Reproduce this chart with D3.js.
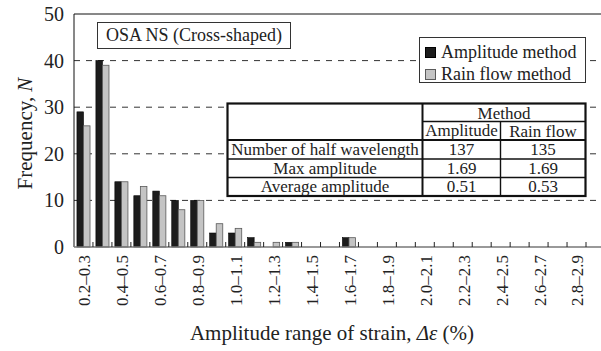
<!DOCTYPE html>
<html>
<head>
<meta charset="utf-8">
<script src="https://cdn.jsdelivr.net/npm/d3@7/dist/d3.min.js"></script>
<style>
  html, body { margin: 0; padding: 0; background: #fff; }
  svg { display: block; }
  text { font-family: "Liberation Serif", Tinos, Times, "DejaVu Serif", serif; }
</style>
</head>
<body>
<div id="chart"></div>
<script>
// Strain amplitude bins (0.1 wide)
const categories = [
  '0.2–0.3', '0.3–0.4', '0.4–0.5', '0.5–0.6', '0.6–0.7', '0.7–0.8', '0.8–0.9',
  '0.9–1.0', '1.0–1.1', '1.1–1.2', '1.2–1.3', '1.3–1.4', '1.4–1.5', '1.5–1.6',
  '1.6–1.7', '1.7–1.8', '1.8–1.9', '1.9–2.0', '2.0–2.1', '2.1–2.2', '2.2–2.3',
  '2.3–2.4', '2.4–2.5', '2.5–2.6', '2.6–2.7', '2.7–2.8', '2.8–2.9'
]
const amplitudeMethod = [29, 40, 14, 11, 12, 10, 10, 3, 3, 2, 0, 1, 0, 0, 2, 0, 0, 0, 0, 0, 0, 0, 0, 0, 0, 0, 0]
const rainFlowMethod  = [26, 39, 14, 13, 11, 8, 10, 5, 4, 1, 1, 1, 0, 0, 2, 0, 0, 0, 0, 0, 0, 0, 0, 0, 0, 0, 0]
const yTicks = [0, 10, 20, 30, 40, 50]

const seriesNames = ['Amplitude method', 'Rain flow method']

// Summary table
const tableRows = ['Number of half wavelength', 'Max amplitude', 'Average amplitude']
const tableAmplitude = ['137', '1.69', '0.51']
const tableRainFlow = ['135', '1.69', '0.53']

const width = 601, height = 351
const margin = { top: 14, right: 15, bottom: 104, left: 74 }
const plotRight = width - margin.right
const plotBottom = height - margin.bottom

const colors = { amp: '#1c1c1c', ampStroke: '#000', rain: '#c4c4c4', rainStroke: '#5a5a5a' }

const svg = d3.select('#chart').append('svg')
  .attr('width', width)
  .attr('height', height)

const x = d3.scaleBand()
  .domain(categories)
  .range([margin.left, plotRight])
  .padding(0)

const x1 = d3.scaleBand()
  .domain(['amp', 'rain'])
  .range([0, x.bandwidth()])
  .paddingInner(0)
  .paddingOuter(0.45)

const y = d3.scaleLinear()
  .domain([0, 50])
  .range([plotBottom, margin.top])

// dashed grid
svg.append('g')
  .selectAll('line')
  .data(yTicks.filter(d => d > 0 && d < 50))
  .join('line')
  .attr('x1', margin.left)
  .attr('x2', width)
  .attr('y1', d => y(d))
  .attr('y2', d => y(d))
  .attr('stroke', '#333')
  .attr('stroke-width', 1)
  .attr('stroke-dasharray', '6,6')

// bars
const groups = svg.append('g')
  .selectAll('g')
  .data(categories.map((c, i) => ({ c, amp: amplitudeMethod[i], rain: rainFlowMethod[i] })))
  .join('g')
  .attr('transform', d => `translate(${x(d.c)},0)`)

groups.filter(d => d.amp > 0).append('rect')
  .attr('x', x1('amp'))
  .attr('y', d => y(d.amp))
  .attr('width', x1.bandwidth())
  .attr('height', d => y(0) - y(d.amp))
  .attr('fill', colors.amp)
  .attr('stroke', colors.ampStroke)
  .attr('stroke-width', 0.6)

groups.filter(d => d.rain > 0).append('rect')
  .attr('x', x1('rain'))
  .attr('y', d => y(d.rain))
  .attr('width', x1.bandwidth())
  .attr('height', d => y(0) - y(d.rain))
  .attr('fill', colors.rain)
  .attr('stroke', colors.rainStroke)
  .attr('stroke-width', 0.8)

// frame: top border and left axis
svg.append('line')
  .attr('x1', margin.left).attr('x2', width)
  .attr('y1', y(50)).attr('y2', y(50))
  .attr('stroke', '#111').attr('stroke-width', 1)

svg.append('line')
  .attr('x1', margin.left).attr('x2', margin.left)
  .attr('y1', y(50)).attr('y2', y(0))
  .attr('stroke', '#111').attr('stroke-width', 1)

// y tick labels
svg.append('g')
  .selectAll('text')
  .data(yTicks)
  .join('text')
  .attr('x', 64)
  .attr('y', d => y(d))
  .attr('dy', '0.35em')
  .attr('text-anchor', 'end')
  .attr('font-size', 20)
  .attr('fill', '#222')
  .text(d => d)

// x axis line with inward ticks between categories
svg.append('line')
  .attr('x1', margin.left).attr('x2', width)
  .attr('y1', y(0)).attr('y2', y(0))
  .attr('stroke', '#777').attr('stroke-width', 1.5)

svg.append('g')
  .selectAll('line')
  .data(categories)
  .join('line')
  .attr('x1', d => x(d) + x.step())
  .attr('x2', d => x(d) + x.step())
  .attr('y1', y(0) - 5)
  .attr('y2', y(0))
  .attr('stroke', '#222')
  .attr('stroke-width', 1)

// x tick labels, every second bin
svg.append('g')
  .selectAll('text')
  .data(categories.filter((d, i) => i % 2 === 0))
  .join('text')
  .attr('transform', d => `translate(${x(d) + x.bandwidth() / 2 + 1},${y(0) + 8}) rotate(-90)`)
  .attr('text-anchor', 'end')
  .attr('dy', '0.35em')
  .attr('font-size', 17)
  .attr('fill', '#222')
  .text(d => d)

// axis titles
svg.append('text')
  .attr('transform', `translate(25,${(y(0) + y(50)) / 2 + 3}) rotate(-90)`)
  .attr('text-anchor', 'middle')
  .attr('dy', '0.35em')
  .attr('font-size', 21)
  .attr('fill', '#222')
  .call(t => {
    t.append('tspan').text('Frequency, ')
    t.append('tspan').attr('font-style', 'italic').text('N')
  })

svg.append('text')
  .attr('x', 332)
  .attr('y', 340)
  .attr('text-anchor', 'middle')
  .attr('font-size', 21)
  .attr('fill', '#222')
  .call(t => {
    t.append('tspan').text('Amplitude range of strain, ')
    t.append('tspan').attr('font-style', 'italic').text('Δε')
    t.append('tspan').text(' (%)')
  })

// title box
const title = svg.append('g')
title.append('rect')
  .attr('x', 97.5).attr('y', 22.5)
  .attr('width', 193).attr('height', 26)
  .attr('fill', '#fff').attr('stroke', '#333').attr('stroke-width', 1)
title.append('text')
  .attr('x', 194).attr('y', 41)
  .attr('text-anchor', 'middle')
  .attr('font-size', 18)
  .attr('fill', '#222')
  .text('OSA NS (Cross-shaped)')

// legend
const legend = svg.append('g')
legend.append('rect')
  .attr('x', 419.5).attr('y', 37.5)
  .attr('width', 166).attr('height', 45)
  .attr('fill', '#fff').attr('stroke', '#333').attr('stroke-width', 1)

const legendItems = legend.selectAll('g.item')
  .data(seriesNames)
  .join('g')
  .attr('class', 'item')
  .attr('transform', (d, i) => `translate(425,${47 + i * 22})`)

legendItems.append('rect')
  .attr('x', 0.5).attr('y', 0.5)
  .attr('width', 10).attr('height', 10)
  .attr('fill', (d, i) => i === 0 ? colors.amp : colors.rain)
  .attr('stroke', (d, i) => i === 0 ? colors.ampStroke : colors.rainStroke)

legendItems.append('text')
  .attr('x', 16).attr('y', 11)
  .attr('font-size', 18)
  .attr('fill', '#222')
  .text(d => d)

// summary table
const cols = [227.5, 422.5, 500.5, 585.5]
const rowsY = [103.5, 121.5, 140, 159, 177.5, 196]
const table = svg.append('g')
table.append('rect')
  .attr('x', cols[0]).attr('y', rowsY[0])
  .attr('width', cols[3] - cols[0]).attr('height', rowsY[5] - rowsY[0])
  .attr('fill', '#fff').attr('stroke', '#111').attr('stroke-width', 2.2)

const hLines = [
  { x1: cols[1], y: rowsY[1] },
  { x1: cols[0], y: rowsY[2] },
  { x1: cols[0], y: rowsY[3] },
  { x1: cols[0], y: rowsY[4] }
]
table.selectAll('line.h')
  .data(hLines)
  .join('line')
  .attr('class', 'h')
  .attr('x1', d => d.x1).attr('x2', cols[3])
  .attr('y1', d => d.y).attr('y2', d => d.y)
  .attr('stroke', '#111').attr('stroke-width', (d, i) => i === 1 ? 2 : 1.4)

table.append('line')
  .attr('x1', cols[1]).attr('x2', cols[1])
  .attr('y1', rowsY[0]).attr('y2', rowsY[5])
  .attr('stroke', '#111').attr('stroke-width', 2)
table.append('line')
  .attr('x1', cols[2]).attr('x2', cols[2])
  .attr('y1', rowsY[1]).attr('y2', rowsY[5])
  .attr('stroke', '#111').attr('stroke-width', 1.4)

const cellText = (cx, cy, s) => table.append('text')
  .attr('x', cx).attr('y', cy)
  .attr('dy', '0.33em')
  .attr('text-anchor', 'middle')
  .attr('font-size', 17)
  .attr('fill', '#222')
  .text(s)

cellText((cols[1] + cols[3]) / 2, (rowsY[0] + rowsY[1]) / 2 + 1, 'Method')
cellText((cols[1] + cols[2]) / 2, (rowsY[1] + rowsY[2]) / 2, 'Amplitude')
cellText((cols[2] + cols[3]) / 2, (rowsY[1] + rowsY[2]) / 2 + 1, 'Rain flow')
tableRows.forEach((r, i) => {
  const cy = (rowsY[i + 2] + rowsY[i + 3]) / 2
  cellText((cols[0] + cols[1]) / 2, cy, r)
  cellText((cols[1] + cols[2]) / 2, cy, tableAmplitude[i])
  cellText((cols[2] + cols[3]) / 2, cy, tableRainFlow[i])
})
</script>
</body>
</html>
